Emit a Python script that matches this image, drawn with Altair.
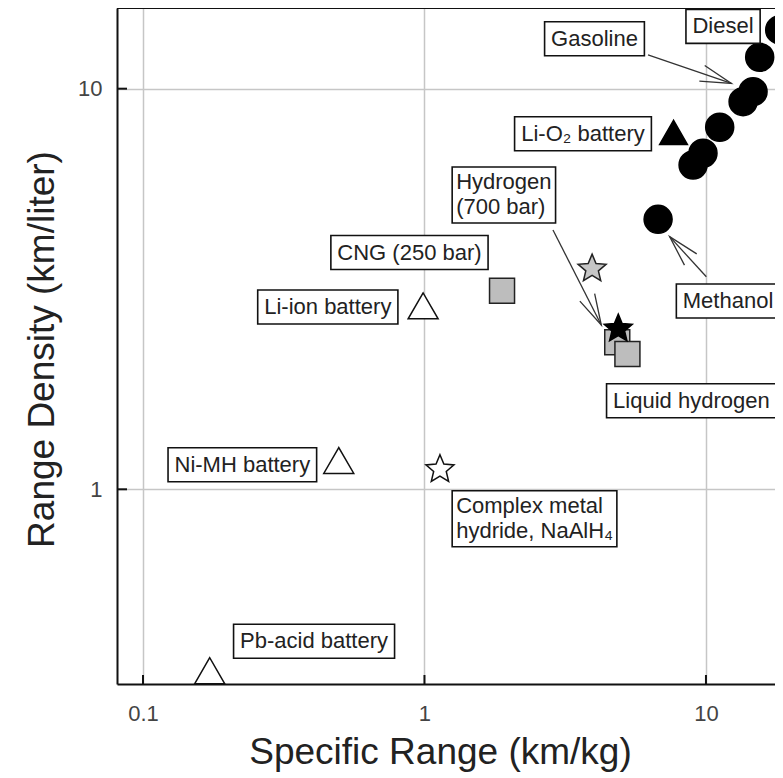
import math
import altair as alt
import pandas as pd

# ---------------- data ----------------
point_names = [
    "Pb-acid battery", "Ni-MH battery", "Li-ion battery", "Li-O2 battery",
    "CNG (250 bar)", "Hydrogen tank", "Liquid hydrogen",
    "Complex metal hydride, NaAlH4", "Hydrogen storage", "Hydrogen (700 bar)",
    "Methanol", "Liquid fuel A", "Liquid fuel B", "Liquid fuel C",
    "Liquid fuel D", "Gasoline", "Liquid fuel E", "Diesel",
]
point_x = [0.1726, 0.496, 0.989, 7.67,
           1.886, 4.84, 5.26,
           1.135, 3.94, 4.88,
           6.76, 9.0, 9.76, 11.19,
           13.55, 14.7, 15.52, 18.28]
point_y = [0.3525, 1.18, 2.87, 7.78,
           3.13, 2.33, 2.175,
           1.13, 3.58, 2.535,
           4.72, 6.45, 6.90, 8.01,
           9.28, 9.83, 11.98, 14.02]
point_kind = ["open_triangle", "open_triangle", "open_triangle", "filled_triangle",
              "gray_square", "gray_square", "gray_square",
              "open_star", "gray_star", "black_star",
              "circle", "circle", "circle", "circle",
              "circle", "circle", "circle", "circle"]

label_text = ["Diesel", "Gasoline", "Li-O\u2082 battery", "CNG (250 bar)",
              "Li-ion battery", "Ni-MH battery", "Pb-acid battery", "Methanol",
              "Liquid hydrogen", "Hydrogen\n(700 bar)",
              "Complex metal\nhydride, NaAlH\u2084"]
label_x = [11.5, 4.018, 3.657, 0.8845, 0.4535, 0.2254, 0.4053, 11.98, 8.874, 1.296, 1.296]
label_y = [14.31, 13.32, 7.72, 3.90, 2.852, 1.152, 0.4176, 2.951, 1.663, 5.429, 0.8445]

arrow_from_x = [6.225, 2.861, 10.03]
arrow_from_y = [12.14, 4.439, 3.394]
arrow_to_x = [12.31, 4.248, 7.43]
arrow_to_y = [10.31, 2.571, 4.272]

x_ticks = [0.1, 1, 10]
y_ticks = [1, 10]

# ---------------- layout / style ----------------
FONT = "Liberation Sans, Arial, Helvetica, sans-serif"
W, H = 658, 676
X_DOMAIN = [0.08085, 17.59]
Y_DOMAIN = [0.3266, 15.90]
FS = 22

x_axis = alt.Axis(values=x_ticks, format="~g", title="Specific Range (km/kg)",
                  grid=True, gridColor="#c6c6c6", gridWidth=1.5,
                  ticks=False, tickSize=0, domain=True, domainColor="#111", domainWidth=2,
                  labelFont=FONT, labelFontSize=22, labelColor="#444", labelPadding=19,
                  labelFlush=False, labelOverlap=False,
                  titleFont=FONT, titleFontSize=37, titleFontWeight="normal", titleColor="#222",
                  titleX=323, titleY=79, titleBaseline="alphabetic", titleAlign="center")
y_axis = alt.Axis(values=y_ticks, format="~g", title="Range Density (km/liter)",
                  grid=True, gridColor="#c6c6c6", gridWidth=1.5,
                  ticks=False, tickSize=0, domain=True, domainColor="#111", domainWidth=2,
                  labelFont=FONT, labelFontSize=22, labelColor="#444", labelPadding=15,
                  labelFlush=False, labelOverlap=False,
                  titleFont=FONT, titleFontSize=37, titleFontWeight="normal", titleColor="#222",
                  titleAngle=270, titleX=-64, titleY=341, titleBaseline="alphabetic",
                  titleAlign="center")
xs = alt.Scale(type="log", domain=X_DOMAIN, nice=False)
ys = alt.Scale(type="log", domain=Y_DOMAIN, nice=False)


def X(f):
    return alt.X(f"{f}:Q", scale=xs, axis=x_axis)


def Y(f):
    return alt.Y(f"{f}:Q", scale=ys, axis=y_axis)


# star path (unit radius, bbox centred)
def star_path(r_in=0.45):
    pts = []
    for k in range(10):
        a = math.radians(-90 + 36 * k)
        r = 1.0 if k % 2 == 0 else r_in
        pts.append((r * math.cos(a), r * math.sin(a) + 0.0955))
    return "M" + "L".join(f"{px:.3f},{py:.3f}" for px, py in pts) + "Z"


STAR = star_path()
STYLES = {
    "open_triangle": dict(shape="triangle-up", fill="white", stroke="#111", size=900),
    "filled_triangle": dict(shape="triangle-up", fill="black", stroke="black", size=770),
    "gray_square": dict(shape="square", fill="#bdbdbd", stroke="#222", size=625),
    "open_star": dict(shape=STAR, fill="white", stroke="#111", size=867),
    "gray_star": dict(shape=STAR, fill="#c6c6c6", stroke="#222", size=867),
    "black_star": dict(shape=STAR, fill="black", stroke="black", size=867),
    "circle": dict(shape="circle", fill="black", stroke="black", size=784),
}

# Arial advance widths (per 1000 em)
CW = {" ": 278, "(": 333, ")": 333, "-": 333, ",": 278, "/": 278,
      "A": 667, "C": 722, "D": 722, "G": 778, "H": 722, "L": 556, "M": 833, "N": 722,
      "O": 778, "P": 667, "a": 556, "b": 556, "c": 500, "d": 556, "e": 556, "g": 556,
      "h": 556, "i": 222, "l": 222, "m": 833, "n": 556, "o": 556, "p": 556, "q": 556,
      "r": 333, "s": 500, "t": 278, "u": 556, "x": 500, "y": 500,
      "\u2082": 400, "\u2084": 400}


def text_w(s):
    return sum(CW.get(c, 556) for c in s) / 1000 * FS


box_paths, multi = [], []
for t in label_text:
    lines = t.split("\n")
    w = max(text_w(l) for l in lines)
    if len(lines) == 1:
        bw, bh = w + 13, 34
        x0, x1 = -bw / 2, bw / 2
        multi.append(False)
    else:
        bw, bh = w + 8, 25 * len(lines) + 6
        x0, x1 = -4, bw - 4
        multi.append(True)
    y0, y1 = -bh / 2, bh / 2
    box_paths.append(f"M{x0:.1f},{y0:.1f}L{x1:.1f},{y0:.1f}L{x1:.1f},{y1:.1f}L{x0:.1f},{y1:.1f}Z")

# ---------------- frames ----------------
pts = pd.DataFrame({"name": point_names, "x": point_x, "y": point_y, "kind": point_kind})
labels = pd.DataFrame({"text": label_text, "x": label_x, "y": label_y,
                       "box": box_paths, "multi": multi})

kx = W / (math.log10(X_DOMAIN[1]) - math.log10(X_DOMAIN[0]))
ky = H / (math.log10(Y_DOMAIN[1]) - math.log10(Y_DOMAIN[0]))
angs = []
for a, b, c, d in zip(arrow_from_x, arrow_from_y, arrow_to_x, arrow_to_y):
    dx = (math.log10(c) - math.log10(a)) * kx
    dy = -(math.log10(d) - math.log10(b)) * ky
    angs.append(math.degrees(math.atan2(dx, -dy)) % 360)
arrows = pd.DataFrame({"x": arrow_from_x, "y": arrow_from_y,
                       "x2": arrow_to_x, "y2": arrow_to_y, "ang": angs})

base_pts = alt.Chart(pts)

# grid / axes carrier (invisible)
axes_layer = base_pts.mark_point(opacity=0).encode(x=X("x"), y=Y("y"))

top_frame = alt.Chart(pd.DataFrame({"k": [0]})).mark_rule(color="#111", strokeWidth=2).encode(
    x=alt.value(0), x2=alt.value(W), y=alt.value(0))

yt = alt.Chart(pd.DataFrame({"v": y_ticks})).mark_rule(color="#111", strokeWidth=2).encode(
    y=Y("v"), x=alt.value(0), x2=alt.value(10))
xt = alt.Chart(pd.DataFrame({"v": x_ticks})).mark_rule(color="#111", strokeWidth=2).encode(
    x=X("v"), y=alt.value(H), y2=alt.value(H - 9))

arrow_lines = alt.Chart(arrows).mark_rule(color="#333", strokeWidth=1.3).encode(
    x=X("x"), y=Y("y"), x2="x2:Q", y2="y2:Q")
arrow_heads = alt.Chart(arrows).mark_point(
    shape="M-8.3,31L0,0L8.3,31", size=4, filled=False, stroke="#333",
    strokeWidth=1.3, opacity=1).encode(
    x=X("x2"), y=Y("y2"), angle=alt.Angle("ang:Q", scale=None))

point_layers = []
for kind, st in STYLES.items():
    sub = pts[pts["kind"] == kind]
    point_layers.append(
        alt.Chart(sub).mark_point(shape=st["shape"], fill=st["fill"], stroke=st["stroke"],
                                  size=st["size"], strokeWidth=1.5, opacity=1, fillOpacity=1,
                                  clip=True)
        .encode(x=X("x"), y=Y("y"))
    )

boxes = alt.Chart(labels).mark_point(filled=True, fill="white", stroke="#111", strokeWidth=1.6,
                                     size=4, opacity=1, clip=True).encode(
    x=X("x"), y=Y("y"), shape=alt.Shape("box:N", scale=None, legend=None))

single = alt.Chart(labels[~labels["multi"]]).mark_text(
    font=FONT, fontSize=FS, color="#222", align="center", baseline="middle").encode(
    x=X("x"), y=Y("y"), text="text:N")
multi_t = alt.Chart(labels[labels["multi"]]).mark_text(
    font=FONT, fontSize=FS, color="#222", align="left", baseline="middle", dy=-12.5,
    lineBreak="\n", lineHeight=25).encode(
    x=X("x"), y=Y("y"), text="text:N")

chart = alt.layer(axes_layer, top_frame, yt, xt, arrow_lines, arrow_heads,
                  *point_layers, boxes, single, multi_t).properties(
    width=W, height=H,
    padding={"left": 109, "top": 0, "right": 0, "bottom": 90},
    autosize=alt.AutoSizeParams(type="none"),
    background="white",
).configure_view(stroke=None)

chart.save("out.html", embed_options={"renderer": "svg", "actions": False})
